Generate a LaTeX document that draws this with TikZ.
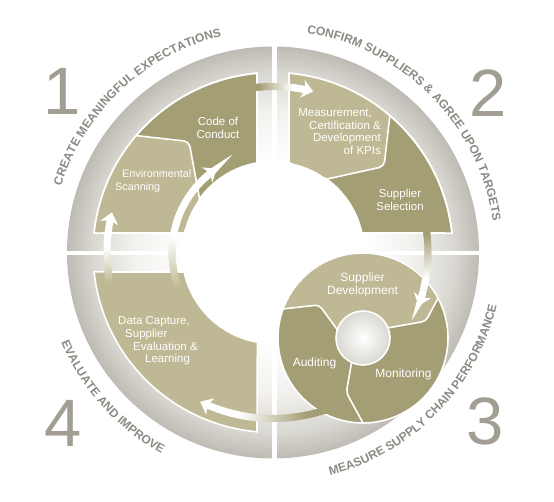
\documentclass[tikz,border=0pt]{standalone}
\usepackage{fontspec}
\setmainfont{Liberation Sans}
\usetikzlibrary{decorations.text,arrows.meta}
\definecolor{oliveD}{HTML}{A49E75}
\definecolor{oliveL}{HTML}{BEB994}
\definecolor{ringG}{HTML}{BDBBB3}
\definecolor{ringL}{HTML}{DAD8D2}
\definecolor{ringM}{HTML}{F2F1EE}
\definecolor{numG}{HTML}{A29E94}
\definecolor{txtG}{HTML}{8D8A83}
\pgfdeclareradialshading{discshade}{\pgfpoint{0bp}{0bp}}{color(0bp)=(white); color(11bp)=(white); color(17bp)=(ringM); color(21.8bp)=(ringL); color(25bp)=(ringG); color(50bp)=(ringG)}
\pgfdeclareradialshading{hubshade}{\pgfpoint{0bp}{0bp}}{color(0bp)=(white); color(25bp)=(ringL); color(50bp)=(ringL)}
\newcommand{\ringfont}{\fontsize{12}{14}\selectfont\bfseries\color{txtG}}
% #1 radius, #2 start angle, #3 end angle, #4 colour, #5 fade begins, #6 white reached
\newcommand{\gradarc}[6]{%
  \foreach \gk in {0,...,47}{%
    \pgfmathsetmacro{\gA}{#2+(#3-#2)*\gk/48}%
    \pgfmathsetmacro{\gB}{#2+(#3-#2)*min(\gk+1.6,48)/48}%
    \pgfmathsetmacro{\gP}{100*min(1,max(0,(#6-\gk/47)/(#6-#5)))}%
    \draw[line width=7pt, color=#4!\gP!white] (\gA:#1) arc[start angle=\gA, end angle=\gB, radius=#1];
  }%
}
\newcommand{\arrowtip}[3]{%
  \draw[white, line width=7pt, -{Stealth[length=11pt,width=18pt,inset=3pt]}] (#2:#1) arc[start angle=#2, end angle=#3, radius=#1];%
}
\tikzset{
  panel/.style={draw=white, line width=1.6pt},
  wline/.style={draw=white, line width=1.6pt, rounded corners=5pt},
  lbl/.style={text=white, inner sep=0pt, font=\fontsize{11.5}{12.8}\selectfont},
  num/.style={text=numG, inner sep=0pt, font=\fontsize{67}{67}\selectfont, anchor=base},
  ringtext/.style={decorate, decoration={text along path, text align=center, text={#1}}}
}
\begin{document}
\begin{tikzpicture}[x=1pt,y=1pt]
\useasboundingbox (-273,-249.5) rectangle (281,252.5);
\fill[white] (-273,-249.5) rectangle (281,252.5);
% grey disc with white cross gaps
\shade[shading=discshade] (0,0) circle (206);
\fill[white] (-1,-210) rectangle (4,210);
\fill[white] (-210,-2.5) rectangle (210,1);
% quadrant 1
\fill[oliveD, panel] (95.1:180) arc[start angle=95.1,end angle=173.8,radius=180] -- (167.6:91) arc[start angle=167.6,end angle=100.1,radius=91] -- cycle;
\fill[oliveL, rounded corners=5pt] (139.5:180) arc[start angle=139.5,end angle=173.8,radius=180] -- (167.6:91) arc[start angle=167.6,end angle=143.8,radius=91] -- (-84,111) -- cycle;
\draw[panel] (95.1:180) arc[start angle=95.1,end angle=173.8,radius=180] -- (167.6:91);
\draw[wline] (143.8:91) -- (-84,111) -- (139.5:180);
% quadrant 2
\fill[oliveD, panel] (84.9:180) arc[start angle=84.9,end angle=6.2,radius=180] -- (12.4:91) arc[start angle=12.4,end angle=79.9,radius=91] -- cycle;
\fill[oliveL, rounded corners=5pt] (84.9:180) arc[start angle=84.9,end angle=49.5,radius=180] -- (111,86) -- (53.8:91) arc[start angle=53.8,end angle=79.9,radius=91] -- cycle;
\draw[panel] (79.9:91) -- (84.9:180) arc[start angle=84.9,end angle=6.2,radius=180];
\draw[wline] (53.8:91) -- (111,86) -- (49.5:180);
% quadrant 4
\fill[oliveL, panel] (186.2:180) arc[start angle=186.2,end angle=264.9,radius=180] -- (260.1:91) arc[start angle=260.1,end angle=192.4,radius=91] -- cycle;
% quadrant 3 : small cycle
\begin{scope}[shift={(90,-85.5)}]
  \fill[oliveD] (0,0) circle (85);
  \fill[oliveL, rounded corners=4pt] (28:85) arc[start angle=28,end angle=160,radius=85] -- (143:55) -- (162:27) arc[start angle=162,end angle=22,radius=27] -- (15:65) -- cycle;
  \draw[wline, rounded corners=4pt] (160:85) -- (143:55) -- (162:27);
  \draw[wline, rounded corners=4pt] (22:27) -- (15:65) -- (28:85);
  \draw[wline, rounded corners=4pt] (245:27) -- (253:57) -- (270:85);
  \shade[shading=hubshade] (0,0) circle (27);
  \draw[panel] (0,0) circle (27);
  \draw[panel] (0,0) circle (85);
\end{scope}
% arrows
\gradarc{166}{100}{80}{oliveD}{0.25}{0.85}
\arrowtip{166}{81}{76}
\gradarc{155}{12}{-14}{oliveD}{0.2}{0.85}
\arrowtip{155}{-14}{-20}
\gradarc{166}{290}{250}{oliveD}{0.2}{0.8}
\arrowtip{166}{250}{244}
\gradarc{166}{193}{172}{oliveL}{0.1}{0.7}
\arrowtip{166}{172}{166}
\gradarc{101}{205}{130}{oliveL}{0.05}{0.45}
\arrowtip{101}{130}{124}
% labels
\node[lbl, align=center] (coc) at (-55,125) {Code of\\Conduct};
\node[lbl, align=left, anchor=west, font=\fontsize{10.8}{13}\selectfont] (env) at (-158,71.5) {\hspace*{7pt}Environmental\\Scanning};
\node[lbl, align=right, anchor=east] (meas) at (108,120.8) {Measurement,\hspace*{9pt}\\Certification \&\\Development\\of KPIs};
\node[lbl, align=center] (sel) at (127,53) {Supplier\\Selection};
\node[lbl, align=left, anchor=west] (data) at (-155,-88.3) {Data Capture,\\\hspace*{7pt}Supplier\\\hspace*{15pt}Evaluation \&\\\hspace*{27pt}Learning};
\node[lbl, align=center, font=\fontsize{12}{13.5}\selectfont] (dev) at (89.5,-32.5) {Supplier\\Development};
\node[lbl, font=\fontsize{12}{13.5}\selectfont] (aud) at (41.5,-110.5) {Auditing};
\node[lbl, font=\fontsize{12}{13.5}\selectfont] (mon) at (130.5,-121.5) {Monitoring};
% ring texts
\path[ringtext={|\ringfont|CREATE MEANINGFUL EXPECTATIONS}] (173:222) arc[start angle=173,end angle=93,radius=222];
\path[ringtext={|\ringfont|CONFIRM SUPPLIERS {\&} AGREE UPON TARGETS}] (90:222) arc[start angle=90,end angle=-0.8,radius=222];
\path[ringtext={|\ringfont|EVALUATE AND IMPROVE}] (192:230) arc[start angle=192,end angle=252,radius=230];
\path[ringtext={|\ringfont|MEASURE SUPPLY CHAIN PERFORMANCE}] (275:230) arc[start angle=275,end angle=356,radius=230];
% numbers
\node[num] (n1) at (-210.6,137.5) {1};
\node[num] (n2) at (215,135.5) {2};
\node[num] (n3) at (212.5,-192.5) {3};
\node[num] (n4) at (-209.5,-194.5) {4};
\end{tikzpicture}
\end{document}
